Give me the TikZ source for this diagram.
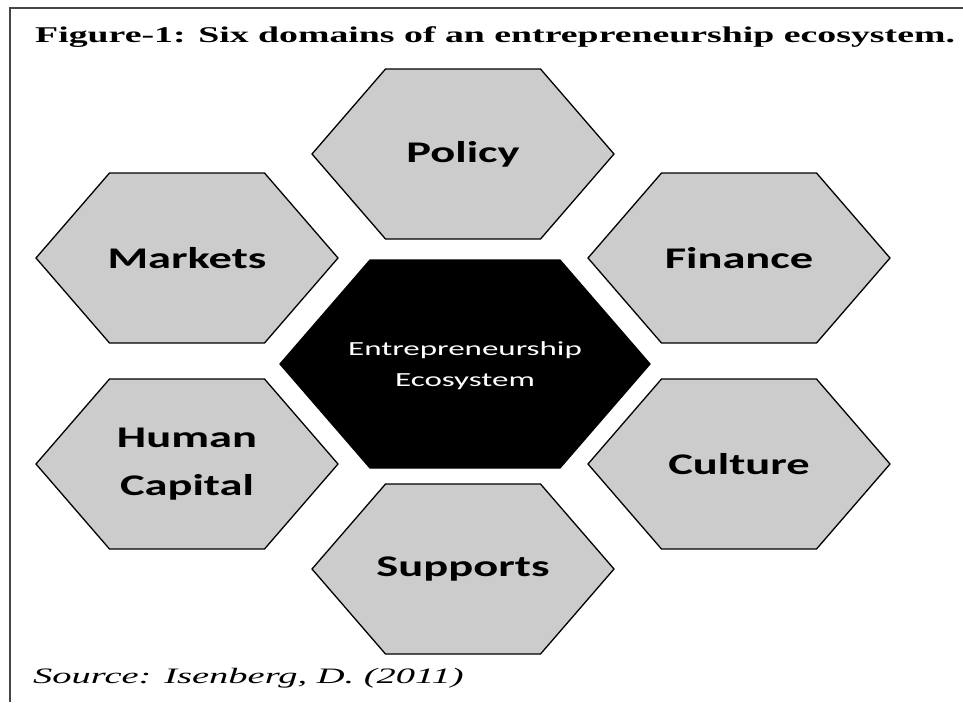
\documentclass[tikz,border=0pt]{standalone}
\usepackage{fontspec}
\newfontfamily\titlefont[FakeStretch=1.68]{Liberation Serif}
\newfontfamily\sourcefont[FakeStretch=1.75]{Liberation Serif}
\newfontfamily\domainfont[FakeStretch=1.55]{Carlito}
\newfontfamily\corefont[FakeStretch=1.65]{Carlito}
\definecolor{hexgray}{RGB}{204,204,204}
\definecolor{framegray}{RGB}{70,70,70}
\tikzstyle{domainhex} = [draw=black, fill=hexgray, line width=1.3pt, line join=miter]
\tikzstyle{corehex} = [draw=black, fill=black, line width=1.3pt]
\tikzstyle{domainlabel} = [font=\domainfont\bfseries\fontsize{30}{48}\selectfont,
    align=center, text=black, inner sep=0pt]
\tikzstyle{corelabel} = [font=\corefont\fontsize{20}{31}\selectfont,
    align=center, text=white, inner sep=0pt]
\begin{document}
\begin{tikzpicture}[x=1pt, y=-1pt]
                \useasboundingbox (0,0) rectangle (963,702);
                \draw[framegray, line width=1.2pt] (963,8) -- (10,8) -- (10,702);
                \node[anchor=base west, inner sep=0pt, font=\titlefont\bfseries\fontsize{22.5}{25}\selectfont]
                    (title) at (35,42) {Figure-1: Six domains of an entrepreneurship ecosystem.};
                % the six domains round the core
                \foreach \name/\cx/\cy/\txt in {policy/463/154/Policy, markets/187/258/Markets,
                    finance/739/258/Finance, human/187/464/Human\\Capital,
                    culture/739/464/Culture, supports/463/569/Supports} {
                    \draw[domainhex] (\cx-151,\cy) -- ++(73.5,-85) -- ++(155,0) -- ++(73.5,85)
                        -- ++(-73.5,85) -- ++(-155,0) -- cycle;
                    \node[domainlabel] (\name) at (\cx,\cy) {\txt};
                }
                \draw[corehex] (280,364) -- ++(90,-104) -- ++(190,0) -- ++(90,104)
                    -- ++(-90,104) -- ++(-190,0) -- cycle;
                \node[corelabel] (core) at (465,366) {Entrepreneurship\\Ecosystem};
                \node[anchor=base west, inner sep=0pt, font=\sourcefont\itshape\fontsize{22}{24}\selectfont]
                    (source) at (33,683) {Source: Isenberg, D. (2011)};
            \end{tikzpicture}
\end{document}
